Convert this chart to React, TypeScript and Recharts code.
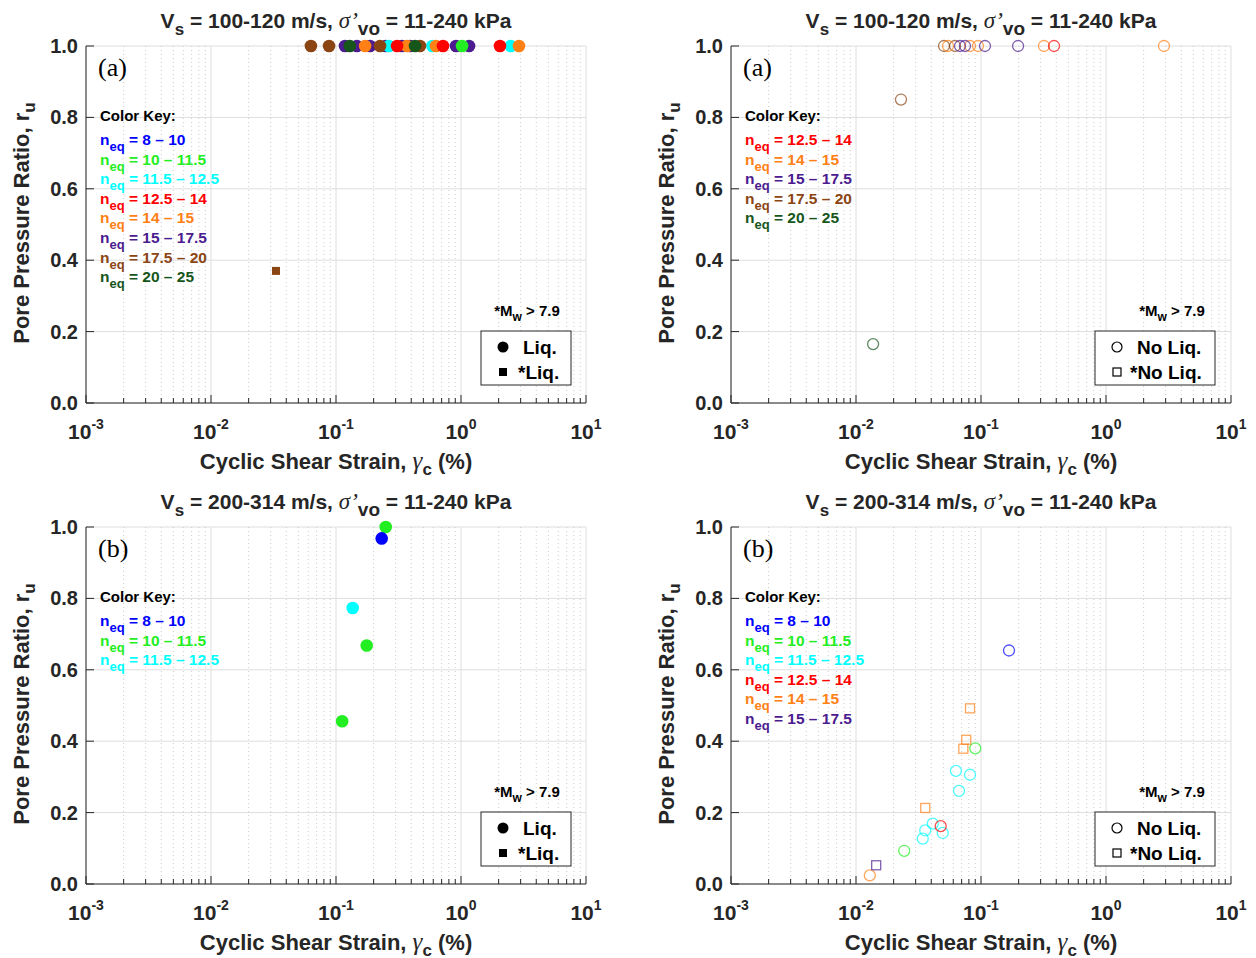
import React from 'react';
import { ScatterChart, Scatter, XAxis, YAxis, CartesianGrid, ReferenceLine } from 'recharts';

const SANS = '"Liberation Sans", Arial, Helvetica, sans-serif';
const SERIF = '"Liberation Serif", "Times New Roman", serif';
const INK = '#262626';

// n_eq colour groups
const BLUE = '#0000ff';
const GREEN = '#22ee22';
const CYAN = '#00ffff';
const RED = '#ff0000';
const ORANGE = '#ff8015';
const PURPLE = '#4b1b8f';
const BROWN = '#8b4513';
const DKGREEN = '#17561b';

const KEY_RANGES = ['8 – 10', '10 – 11.5', '11.5 – 12.5', '12.5 – 14', '14 – 15', '15 – 17.5', '17.5 – 20', '20 – 25'];
const KEY_COLORS = [BLUE, GREEN, CYAN, RED, ORANGE, PURPLE, BROWN, DKGREEN];

const X_DECADES = [0.001, 0.01, 0.1, 1, 10];
const X_MINOR = X_DECADES.slice(0, -1).flatMap(d => [2, 3, 4, 5, 6, 7, 8, 9].map(k => k * d));
const Y_TICKS = [0, 0.2, 0.4, 0.6, 0.8, 1.0];

// [cyclic shear strain (%), r_u]
// Vs = 100-120 m/s, liquefied
const liqAPurple = [[0.118, 1], [0.147, 1], [0.187, 1], [0.25, 1], [0.337, 1], [0.391, 1], [0.912, 1], [1.16, 1]];
const liqACyan = [[0.265, 1], [0.59, 1], [2.5, 1]];
const liqAOrange = [[0.171, 1], [0.37, 1], [0.631, 1], [2.91, 1]];
const liqARed = [[0.308, 1], [0.718, 1], [2.05, 1]];
const liqAGreen = [[1.02, 1]];
const liqABrown = [[0.063, 1], [0.088, 1], [0.225, 1], [0.47, 1]];
const liqADkGreen = [[0.129, 1], [0.429, 1]];
const liqAStarBrown = [[0.0331, 0.37]];

// Vs = 100-120 m/s, not liquefied
const noLiqABrown = [[0.0506, 1], [0.0619, 1], [0.0229, 0.85]];
const noLiqAOrange = [[0.0545, 1], [0.0817, 1], [0.0946, 1], [0.319, 1], [2.91, 1]];
const noLiqAPurple = [[0.0679, 1], [0.0745, 1], [0.1076, 1], [0.198, 1]];
const noLiqARed = [[0.384, 1]];
const noLiqADkGreen = [[0.0137, 0.165]];

// Vs = 200-314 m/s, liquefied
const liqBGreen = [[0.25, 1.0], [0.176, 0.668], [0.112, 0.456]];
const liqBBlue = [[0.232, 0.968]];
const liqBCyan = [[0.136, 0.773]];

// Vs = 200-314 m/s, not liquefied
const noLiqBBlue = [[0.1675, 0.654]];
const noLiqBGreen = [[0.09, 0.38], [0.0243, 0.093]];
const noLiqBCyan = [[0.063, 0.317], [0.0817, 0.306], [0.0667, 0.261], [0.0411, 0.169], [0.0358, 0.15], [0.0494, 0.143], [0.0342, 0.127]];
const noLiqBRed = [[0.0476, 0.162]];
const noLiqBOrange = [[0.0129, 0.024]];
const noLiqBStarOrange = [[0.0817, 0.492], [0.0762, 0.404], [0.0722, 0.379], [0.0358, 0.213]];
const noLiqBStarPurple = [[0.0145, 0.0525]];

type Mark = 'dot' | 'sq' | 'ring' | 'box';
type Series = { pts: number[][]; color: string; mark: Mark };

const W = 628;
const H = 479;

const markShape = (mark: Mark, color: string) => (p: any) => {
  const { cx, cy } = p;
  if (mark === 'dot') return <circle cx={cx} cy={cy} r={6.3} fill={color} />;
  if (mark === 'sq') return <rect x={cx - 4} y={cy - 4} width={8} height={8} fill={color} />;
  if (mark === 'ring')
    return <circle cx={cx} cy={cy} r={5.5} fill="none" stroke={color} strokeOpacity={0.7} strokeWidth={1.3} />;
  return <rect x={cx - 4.5} y={cy - 4.5} width={9} height={9} fill="none" stroke={color} strokeOpacity={0.7} strokeWidth={1.3} />;
};

const isDecade = (v: number) => Math.abs(Math.log10(v) - Math.round(Math.log10(v))) < 1e-9;

const XTick = (props: any) => {
  const { x, y, payload } = props;
  const v = payload.value;
  const major = isDecade(v);
  return (
    <g>
      <line x1={x} x2={x} y1={y} y2={y - (major ? 8 : 5)} stroke={INK} />
      {major && (
        <text x={x} y={y + 36} textAnchor="middle" fontFamily={SANS} fontWeight={700} fontSize={21} fill={INK}>
          <tspan>10</tspan>
          <tspan dy={-10} fontSize={14}>{Math.round(Math.log10(v))}</tspan>
        </text>
      )}
    </g>
  );
};

const YTick = (props: any) => {
  const { x, y, payload } = props;
  return (
    <g>
      <line x1={x} x2={x + 8} y1={y} y2={y} stroke={INK} />
      <text x={x - 8} y={y + 7} textAnchor="end" fontFamily={SANS} fontWeight={700} fontSize={20} fill={INK}>
        {payload.value.toFixed(1)}
      </text>
    </g>
  );
};

function Panel({ left, top, vs, letter, keyRows, noLiq, series }: {
  left: number; top: number; vs: string; letter: string; keyRows: number[]; noLiq: boolean; series: Series[];
}) {
  const boxX = noLiq ? 450 : 481;
  const boxW = noLiq ? 120 : 90;
  const mx = boxX + 22;
  return (
    <div style={{ position: 'absolute', left, top, width: W, height: H }}>
      <ScatterChart width={W} height={H} margin={{ top: 46, right: 42, bottom: 46, left: 46 }}>
        <CartesianGrid vertical={false} stroke="#dedede" />
        {X_MINOR.map(v => (
          <ReferenceLine key={'m' + v} x={v} stroke="#cccccc" strokeDasharray="1 3" />
        ))}
        {X_DECADES.map(v => (
          <ReferenceLine key={'d' + v} x={v} stroke="#dedede" />
        ))}
        <XAxis
          type="number"
          dataKey="x"
          scale="log"
          domain={[0.001, 10]}
          ticks={[...X_DECADES, ...X_MINOR]}
          interval={0}
          tickSize={0}
          tickMargin={0}
          tickLine={false}
          tick={XTick}
          axisLine={{ stroke: INK }}
          height={30}
          allowDataOverflow
        />
        <YAxis
          type="number"
          dataKey="y"
          domain={[0, 1]}
          ticks={Y_TICKS}
          interval={0}
          width={40}
          tickSize={0}
          tickMargin={0}
          tickLine={false}
          tick={YTick}
          axisLine={{ stroke: INK }}
        />
        {series.map((s, i) => (
          <Scatter
            key={i}
            name={'s' + i}
            data={s.pts.map(([x, y]) => ({ x, y }))}
            shape={markShape(s.mark, s.color)}
            isAnimationActive={false}
          />
        ))}
      </ScatterChart>
      <svg width={W} height={H} style={{ position: 'absolute', left: 0, top: 0, pointerEvents: 'none' }}>
        <g fontFamily={SANS} fontWeight={700} fill={INK}>
          <text x={336} y={28} textAnchor="middle" fontSize={21}>
            <tspan>V</tspan>
            <tspan dy={7} fontSize={17}>s</tspan>
            <tspan dy={-7}>{` = ${vs} m/s, `}</tspan>
            <tspan fontFamily={SERIF} fontStyle="italic" fontWeight={400} fontSize={23}>σ’</tspan>
            <tspan dy={7} fontSize={19}>vo</tspan>
            <tspan dy={-7}> = 11-240 kPa</tspan>
          </text>
          <text transform="translate(29,223) rotate(-90)" textAnchor="middle" fontSize={22}>
            <tspan>Pore Pressure Ratio, r</tspan>
            <tspan dy={6} fontSize={17}>u</tspan>
          </text>
          <text x={336} y={469} textAnchor="middle" fontSize={22}>
            <tspan>Cyclic Shear Strain, </tspan>
            <tspan fontFamily={SERIF} fontStyle="italic" fontWeight={400} fontSize={25}>γ</tspan>
            <tspan dy={6} fontSize={17}>c</tspan>
            <tspan dy={-6}> (%)</tspan>
          </text>
          <text x={98} y={76} fontFamily={SERIF} fontWeight={400} fontSize={26} fill="#000">
            ({letter})
          </text>
          <text x={100} y={121} fontSize={15} fill="#000">Color Key:</text>
          {keyRows.map((k, i) => (
            <text key={k} x={100} y={145 + 19.6 * i} fontSize={15.5} fill={KEY_COLORS[k]}>
              <tspan>n</tspan>
              <tspan dy={6} fontSize={13}>eq</tspan>
              <tspan dy={-6}>{` = ${KEY_RANGES[k]}`}</tspan>
            </text>
          ))}
          <text x={527} y={316} textAnchor="middle" fontSize={15} fill="#000">
            <tspan>*M</tspan>
            <tspan dy={5} fontSize={12}>w</tspan>
            <tspan dy={-5}> &gt; 7.9</tspan>
          </text>
          <rect x={boxX} y={331} width={boxW} height={54} fill="#fff" stroke={INK} strokeWidth={1} />
          {noLiq ? (
            <>
              <circle cx={mx} cy={347} r={5} fill="none" stroke="#000" strokeWidth={1.2} />
              <rect x={mx - 4} y={368} width={8} height={8} fill="none" stroke="#000" strokeWidth={1.2} />
              <text x={mx + 20} y={354} fontSize={19} fill="#000">No Liq.</text>
              <text x={mx + 13} y={379} fontSize={19} fill="#000">*No Liq.</text>
            </>
          ) : (
            <>
              <circle cx={mx} cy={347} r={5.5} fill="#000" />
              <rect x={mx - 4} y={368} width={8} height={8} fill="#000" />
              <text x={mx + 20} y={354} fontSize={19} fill="#000">Liq.</text>
              <text x={mx + 15} y={379} fontSize={19} fill="#000">*Liq.</text>
            </>
          )}
        </g>
      </svg>
    </div>
  );
}

const panelALiq: Series[] = [
  { pts: liqAPurple, color: PURPLE, mark: 'dot' },
  { pts: liqACyan, color: CYAN, mark: 'dot' },
  { pts: liqAOrange, color: ORANGE, mark: 'dot' },
  { pts: liqARed, color: RED, mark: 'dot' },
  { pts: liqAGreen, color: GREEN, mark: 'dot' },
  { pts: liqABrown, color: BROWN, mark: 'dot' },
  { pts: liqADkGreen, color: DKGREEN, mark: 'dot' },
  { pts: liqAStarBrown, color: BROWN, mark: 'sq' },
];

const panelANoLiq: Series[] = [
  { pts: noLiqABrown, color: BROWN, mark: 'ring' },
  { pts: noLiqAOrange, color: ORANGE, mark: 'ring' },
  { pts: noLiqAPurple, color: PURPLE, mark: 'ring' },
  { pts: noLiqARed, color: RED, mark: 'ring' },
  { pts: noLiqADkGreen, color: DKGREEN, mark: 'ring' },
];

const panelBLiq: Series[] = [
  { pts: liqBGreen, color: GREEN, mark: 'dot' },
  { pts: liqBBlue, color: BLUE, mark: 'dot' },
  { pts: liqBCyan, color: CYAN, mark: 'dot' },
];

const panelBNoLiq: Series[] = [
  { pts: noLiqBBlue, color: BLUE, mark: 'ring' },
  { pts: noLiqBGreen, color: GREEN, mark: 'ring' },
  { pts: noLiqBCyan, color: CYAN, mark: 'ring' },
  { pts: noLiqBRed, color: RED, mark: 'ring' },
  { pts: noLiqBOrange, color: ORANGE, mark: 'ring' },
  { pts: noLiqBStarOrange, color: ORANGE, mark: 'box' },
  { pts: noLiqBStarPurple, color: PURPLE, mark: 'box' },
];

export default function App() {
  return (
    <div style={{ position: 'absolute', left: 0, top: 0, width: 1256, height: 958, background: '#fff' }}>
      <Panel left={0} top={0} vs="100-120" letter="a" keyRows={[0, 1, 2, 3, 4, 5, 6, 7]} noLiq={false} series={panelALiq} />
      <Panel left={645} top={0} vs="100-120" letter="a" keyRows={[3, 4, 5, 6, 7]} noLiq={true} series={panelANoLiq} />
      <Panel left={0} top={481} vs="200-314" letter="b" keyRows={[0, 1, 2]} noLiq={false} series={panelBLiq} />
      <Panel left={645} top={481} vs="200-314" letter="b" keyRows={[0, 1, 2, 3, 4, 5]} noLiq={true} series={panelBNoLiq} />
    </div>
  );
}
